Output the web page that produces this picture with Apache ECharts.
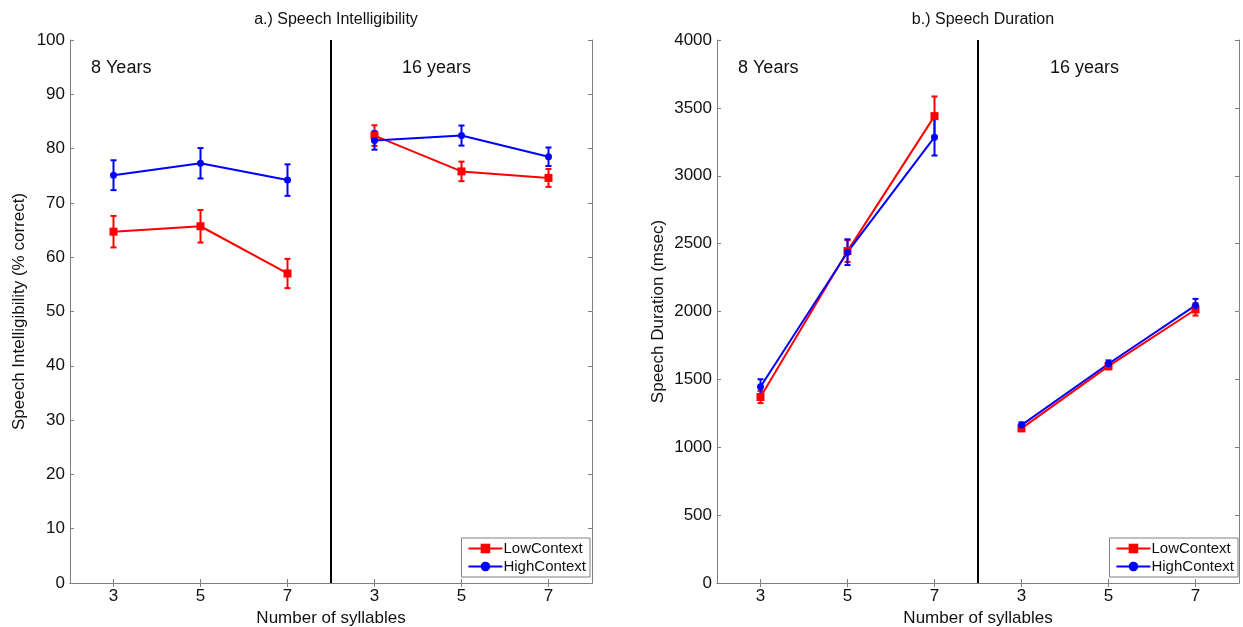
<!DOCTYPE html>
<html>
<head>
<meta charset="utf-8">
<script src="https://cdn.jsdelivr.net/npm/echarts@6/dist/echarts.min.js"></script>
<style>html,body{margin:0;padding:0;background:#fff}#c{width:1243px;height:627px}</style>
</head>
<body>
<div id="c"></div>
<script>
// ---- data ----
const xPositions = [1, 2, 3, 4, 5, 6];
const xTickLabels = ['3', '5', '7', '3', '5', '7'];
const groupLabels = ['8 Years', '16 years'];

// a.) Speech Intelligibility (% correct)
const intelLow8 = [64.7, 65.7, 57.0];
const intelLow8Err = [2.9, 3.0, 2.7];
const intelLow16 = [82.4, 75.8, 74.6];
const intelLow16Err = [1.9, 1.8, 1.65];
const intelHigh8 = [75.1, 77.3, 74.2];
const intelHigh8Err = [2.75, 2.8, 2.9];
const intelHigh16 = [81.5, 82.4, 78.5];
const intelHigh16Err = [1.7, 1.85, 1.7];

// b.) Speech Duration (msec)
const durLow8 = [1370, 2445, 3439];
const durLow8Err = [45, 80, 145];
const durLow16 = [1139, 1598, 2015];
const durLow16Err = [20, 25, 45];
const durHigh8 = [1446, 2437, 3284];
const durHigh8Err = [55, 95, 135];
const durHigh16 = [1163, 1615, 2045];
const durHigh16Err = [20, 25, 48];

const RED = '#ff0000', BLUE = '#0000ff';
const FONT = '"Liberation Sans", Arial, sans-serif';

function pts(vals, offset) { return vals.map((v, i) => [xPositions[i + offset], v]); }
function errs(vals, e, offset) { return vals.map((v, i) => [xPositions[i + offset], v - e[i], v + e[i]]); }

function errorSeries(data, color, gi) {
  return {
    type: 'custom', name: 'err', xAxisIndex: gi * 2, yAxisIndex: gi * 2, z: 3,
    silent: true,
    data: data,
    renderItem: function (params, api) {
      const x = api.value(0);
      const lo = api.coord([x, api.value(1)]);
      const hi = api.coord([x, api.value(2)]);
      const cap = 3;
      const st = { stroke: color, lineWidth: 2 };
      return { type: 'group', children: [
        { type: 'line', shape: { x1: lo[0], y1: lo[1], x2: hi[0], y2: hi[1] }, style: st },
        { type: 'line', shape: { x1: lo[0] - cap, y1: lo[1], x2: lo[0] + cap, y2: lo[1] }, style: st },
        { type: 'line', shape: { x1: hi[0] - cap, y1: hi[1], x2: hi[0] + cap, y2: hi[1] }, style: st }
      ]};
    }
  };
}
function lineSeries(name, data, color, symbol, size, gi) {
  return {
    type: 'line', name: name, xAxisIndex: gi * 2, yAxisIndex: gi * 2, data: data,
    symbol: symbol, symbolSize: size, z: 4,
    lineStyle: { color: color, width: 2 }, itemStyle: { color: color },
    emphasis: { disabled: true }, animation: false
  };
}

function axesFor(gi, ymax, yint, yname, ynameGap) {
  const xb = {
    type: 'value', gridIndex: gi, min: 0.5, max: 6.5, position: 'bottom',
    name: 'Number of syllables', nameLocation: 'middle', nameGap: 26,
    nameTextStyle: { fontFamily: FONT, fontSize: 17, color: '#111' },
    axisLine: { lineStyle: { color: '#808080', width: 1 } },
    axisTick: { inside: true, length: 4, customValues: xPositions, lineStyle: { color: '#808080' } },
    axisLabel: { customValues: xPositions, formatter: v => xTickLabels[Math.round(v) - 1], fontFamily: FONT, fontSize: 17, color: '#111', margin: 5 },
    splitLine: { show: false }
  };
  const xt = {
    type: 'value', gridIndex: gi, min: 0.5, max: 6.5, position: 'top',
    axisLine: { lineStyle: { color: '#808080', width: 1 } },
    axisTick: { inside: true, length: 4, customValues: xPositions, lineStyle: { color: '#808080' } },
    axisLabel: { show: false }, splitLine: { show: false }
  };
  const yl = {
    type: 'value', gridIndex: gi, min: 0, max: ymax, interval: yint, position: 'left',
    name: yname, nameLocation: 'middle', nameGap: ynameGap,
    nameTextStyle: { fontFamily: FONT, fontSize: 17, color: '#111' },
    axisLine: { show: true, lineStyle: { color: '#808080', width: 1 } },
    axisTick: { show: true, inside: true, length: 4, lineStyle: { color: '#808080' } },
    axisLabel: { formatter: v => String(v), fontFamily: FONT, fontSize: 17, color: '#111', margin: 5 },
    splitLine: { show: false }
  };
  const yr = {
    type: 'value', gridIndex: gi, min: 0, max: ymax, interval: yint, position: 'right',
    axisLine: { show: true, lineStyle: { color: '#808080', width: 1 } },
    axisTick: { show: true, inside: true, length: 4, lineStyle: { color: '#808080' } },
    axisLabel: { show: false }, splitLine: { show: false }
  };
  return { x: [xb, xt], y: [yl, yr] };
}

const a0 = axesFor(0, 100, 10, 'Speech Intelligibility (% correct)', 42);
const a1 = axesFor(1, 4000, 500, 'Speech Duration (msec)', 50);

function divider(gi) {
  return {
    type: 'line', xAxisIndex: gi * 2, yAxisIndex: gi * 2, data: [], silent: true,
    markLine: { silent: true, symbol: 'none', animation: false, label: { show: false },
      lineStyle: { color: '#000', width: 2, type: 'solid' },
      data: [[{ coord: [3.5, 0] }, { coord: [3.5, gi === 0 ? 100 : 4000] }]] }
  };
}

function legendAt(right) {
  return {
    orient: 'vertical', right: right, top: 538,
    data: ['LowContext', 'HighContext'],
    backgroundColor: '#fff', borderColor: '#808080', borderWidth: 1, borderRadius: 0,
    padding: [3, 4, 3, 6], itemGap: 3, itemWidth: 34, itemHeight: 12,
    textStyle: { fontFamily: FONT, fontSize: 15, color: '#111', padding: [0, 0, 0, -4] },
    selectedMode: false
  };
}

const grids = [
  { left: 70, right: 651, top: 40, bottom: 44, outerBoundsMode: 'none', containLabel: false },
  { left: 717, right: 4, top: 40, bottom: 44, outerBoundsMode: 'none', containLabel: false }
];

const option = {
  animation: false,
  backgroundColor: '#fff',
  title: [
    { text: 'a.) Speech Intelligibility', left: 331, top: 7, textAlign: 'center',
      textStyle: { fontFamily: FONT, fontSize: 16, fontWeight: 'normal', color: '#111' } },
    { text: 'b.) Speech Duration', left: 978, top: 7, textAlign: 'center',
      textStyle: { fontFamily: FONT, fontSize: 16, fontWeight: 'normal', color: '#111' } }
  ],
  grid: grids,
  xAxis: [a0.x[0], a0.x[1], a1.x[0], a1.x[1]],
  yAxis: [a0.y[0], a0.y[1], a1.y[0], a1.y[1]],
  legend: [legendAt(653), legendAt(5)],
  graphic: [
    { type: 'text', left: 91, top: 59, style: { text: groupLabels[0], font: '18px ' + FONT, fill: '#111' } },
    { type: 'text', left: 402, top: 59, style: { text: groupLabels[1], font: '18px ' + FONT, fill: '#111' } },
    { type: 'text', left: 738, top: 59, style: { text: groupLabels[0], font: '18px ' + FONT, fill: '#111' } },
    { type: 'text', left: 1050, top: 59, style: { text: groupLabels[1], font: '18px ' + FONT, fill: '#111' } }
  ],
  series: [
    lineSeries('LowContext', pts(intelLow8, 0), RED, 'rect', 8, 0),
    lineSeries('HighContext', pts(intelHigh8, 0), BLUE, 'circle', 7, 0),
    lineSeries('LowContext', pts(intelLow16, 3), RED, 'rect', 8, 0),
    lineSeries('HighContext', pts(intelHigh16, 3), BLUE, 'circle', 7, 0),
    errorSeries(errs(intelLow8, intelLow8Err, 0), RED, 0),
    errorSeries(errs(intelLow16, intelLow16Err, 3), RED, 0),
    errorSeries(errs(intelHigh8, intelHigh8Err, 0), BLUE, 0),
    errorSeries(errs(intelHigh16, intelHigh16Err, 3), BLUE, 0),
    divider(0),
    lineSeries('LowContext', pts(durLow8, 0), RED, 'rect', 8, 1),
    lineSeries('HighContext', pts(durHigh8, 0), BLUE, 'circle', 7, 1),
    lineSeries('LowContext', pts(durLow16, 3), RED, 'rect', 8, 1),
    lineSeries('HighContext', pts(durHigh16, 3), BLUE, 'circle', 7, 1),
    errorSeries(errs(durLow8, durLow8Err, 0), RED, 1),
    errorSeries(errs(durLow16, durLow16Err, 3), RED, 1),
    errorSeries(errs(durHigh8, durHigh8Err, 0), BLUE, 1),
    errorSeries(errs(durHigh16, durHigh16Err, 3), BLUE, 1),
    divider(1)
  ]
};

const chart = echarts.init(document.getElementById('c'), null, { renderer: 'canvas' });
chart.setOption(option);
</script>
</body>
</html>
